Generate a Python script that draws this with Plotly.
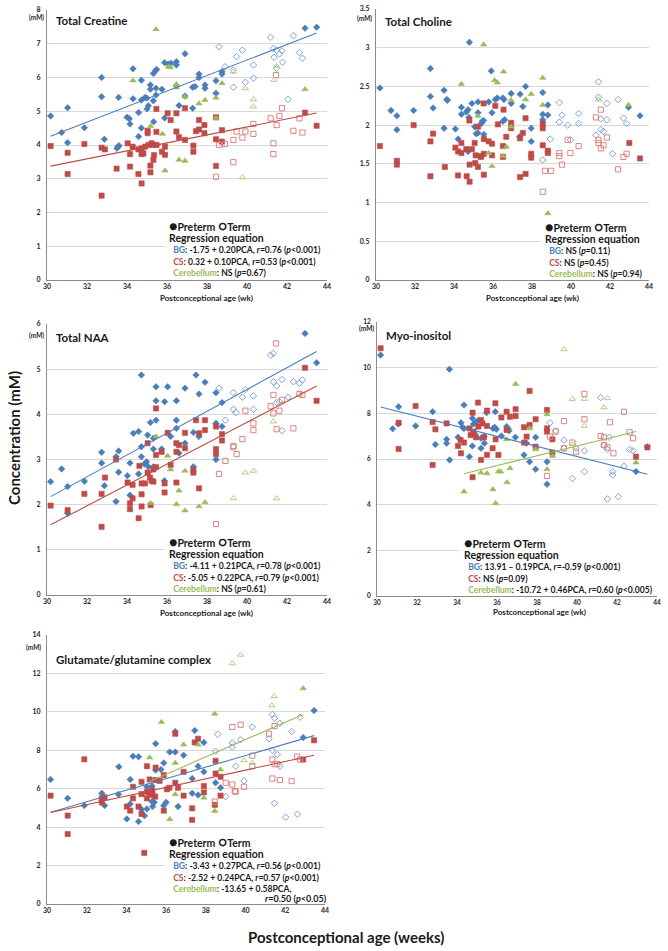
import numpy as np
import plotly.graph_objects as go

W, H = 668, 951
FONT = "Lato"

# ---------------- DATA (postconceptional age in weeks, concentration in mM) ----------------
# Total Creatine
CR_BG_PRE = [(30.18,4.86),(30.73,4.37),(31.03,5.1),(31.03,4.07),(31.87,4.51),(32.73,6.0),(32.73,5.43),(32.87,4.17),(33.58,5.41),(33.5,3.9),(33.55,3.95),(33.6,3.98),(34.0,4.82),(34.12,4.78),(34.15,4.62),(34.3,6.26),(34.3,5.37),(34.58,4.25),(34.58,4.96),(34.72,5.92),(34.72,5.33),(34.72,4.5),(34.9,5.41),(35.0,5.39),(35.0,5.07),(35.07,5.16),(35.17,5.78),(35.17,5.65),(35.32,6.12),(35.42,6.2),(35.48,6.24),(35.32,5.31),(35.33,4.69),(35.45,5.68),(35.45,5.48),(35.75,5.65),(35.88,6.44),(36.07,6.4),(36.2,6.42),(35.88,4.8),(36.47,6.47),(36.47,6.37),(36.47,5.75),(36.6,5.17),(36.9,6.7),(36.9,5.45),(37.28,5.71),(37.4,5.73),(37.28,5.09),(37.6,6.1),(37.6,6.0),(37.9,5.78),(37.9,5.68),(38.45,5.9),(38.45,5.53),(38.75,6.17),(38.75,6.1),(42.9,7.46),(43.48,7.49)]
CR_BG_TERM = [(38.6,6.91),(38.9,6.32),(39.32,6.22),(39.32,5.71),(39.48,6.62),(39.77,6.81),(39.92,5.86),(40.32,6.37),(40.32,5.98),(41.18,7.19),(41.32,6.86),(41.35,6.6),(41.48,6.81),(41.62,6.7),(41.48,6.27),(41.75,6.79),(41.78,6.45),(42.05,5.35),(42.32,7.24),(42.62,6.74),(42.77,6.57)]
CR_CS_PRE = [(30.18,3.97),(31.03,3.77),(31.03,3.14),(31.87,4.03),(32.73,3.92),(32.9,3.87),(32.73,2.5),(33.48,3.3),(34.03,4.05),(34.15,3.73),(34.15,3.36),(34.28,3.95),(34.57,3.87),(34.57,3.14),(34.73,3.9),(34.82,3.75),(34.73,3.73),(34.73,2.86),(35.03,4.35),(35.03,4.42),(34.9,3.95),(35.07,4.0),(35.23,4.05),(35.32,4.0),(35.17,3.19),(35.17,3.39),(35.32,3.56),(35.47,5.07),(35.47,4.39),(35.48,4.0),(35.35,3.7),(35.75,3.8),(35.9,3.95),(35.9,3.71),(36.03,4.94),(36.18,4.74),(36.47,4.94),(36.47,4.4),(36.6,4.23),(36.9,5.09),(36.9,4.15),(37.32,3.98),(37.32,3.8),(37.45,4.41),(37.6,4.74),(37.6,4.46),(37.87,4.59),(37.87,4.35),(38.45,4.82),(38.45,4.17),(38.45,3.38),(38.75,4.44),(38.75,4.1),(42.9,4.96),(43.48,4.57)]
CR_CS_TERM = [(38.6,4.0),(38.9,4.03),(38.45,3.06),(39.32,4.15),(39.32,3.49),(39.48,4.4),(39.77,4.22),(39.92,4.4),(40.32,4.62),(40.32,4.33),(41.18,4.79),(41.32,4.05),(41.32,3.73),(41.45,6.07),(41.48,4.59),(41.62,4.86),(41.75,5.09),(42.32,4.42),(42.62,4.79),(42.77,4.37)]
CR_CB_PRE = [(35.45,7.43),(34.3,5.91),(36.07,6.32),(36.18,6.3),(36.47,5.8),(36.47,5.71),(36.9,5.43),(37.6,5.23),(37.9,5.33),(38.45,5.4),(38.45,4.79),(38.75,5.83),(35.18,4.56),(35.77,4.33),(42.9,5.65),(35.9,3.24),(36.6,3.56),(36.9,3.53)]
CR_CB_TERM = [(39.32,6.17),(39.92,5.68),(40.32,5.35),(40.32,5.14),(41.35,5.93),(41.48,6.34),(39.77,3.04)]

# Total Choline
CH_BG_PRE = [(30.2,2.48),(30.77,2.19),(31.07,2.12),(31.07,1.94),(31.93,2.19),(32.79,2.73),(32.79,2.37),(32.93,2.22),(33.49,2.45),(33.63,2.33),(33.66,2.32),(33.49,1.96),(34.07,1.95),(34.21,1.82),(34.38,2.14),(34.38,2.23),(34.63,2.17),(34.72,2.2),(34.77,2.1),(34.79,3.07),(34.92,2.28),(35.06,1.98),(35.14,1.89),(35.23,1.9),(35.23,2.3),(35.23,2.16),(35.4,2.02),(35.45,2.05),(35.52,2.06),(35.53,1.88),(35.78,2.3),(35.91,2.7),(35.95,2.16),(36.12,2.33),(36.22,2.35),(36.51,2.35),(36.56,2.33),(36.51,2.05),(36.6,2.07),(36.93,2.41),(36.93,2.28),(37.39,2.4),(37.53,2.24),(37.67,2.5),(37.36,1.85),(37.96,1.96),(37.96,1.79),(38.55,2.42),(38.55,2.14),(38.55,2.07),(38.81,2.26),(38.81,2.13),(42.95,2.23),(43.54,2.12),(34.72,1.66)]
CH_BG_TERM = [(38.55,1.55),(38.94,1.82),(39.4,2.29),(39.54,2.13),(39.4,2.04),(39.83,2.0),(39.97,1.81),(40.39,2.15),(40.39,2.02),(41.28,1.87),(41.41,2.56),(41.41,2.36),(41.53,2.08),(41.53,1.94),(41.67,1.92),(41.84,2.28),(41.84,2.07),(42.13,1.63),(42.42,2.33),(42.69,2.09),(42.85,2.02)]
CH_CS_PRE = [(30.2,1.73),(31.07,1.54),(31.07,1.49),(31.93,2.0),(32.79,1.79),(32.93,1.89),(32.79,1.34),(33.53,1.46),(34.07,1.71),(34.21,1.66),(34.38,1.64),(34.38,1.77),(34.21,1.35),(34.63,1.69),(34.65,1.34),(34.79,2.06),(34.8,1.49),(34.8,1.27),(34.92,1.69),(35.06,1.77),(35.11,1.61),(35.09,1.51),(35.23,1.98),(35.23,1.46),(35.4,1.6),(35.37,1.59),(35.52,2.28),(35.53,1.82),(35.53,1.63),(35.53,1.36),(35.78,1.79),(35.95,1.76),(35.95,1.61),(36.12,2.25),(36.25,2.01),(36.51,1.73),(36.51,1.59),(36.54,2.2),(36.68,1.85),(36.93,2.03),(36.93,1.96),(37.39,1.83),(37.39,1.33),(37.53,1.9),(37.67,2.09),(37.67,1.37),(37.96,1.63),(37.96,1.58),(38.55,2.02),(38.55,1.96),(38.55,1.74),(38.81,1.67),(38.81,1.64),(42.99,1.77),(43.54,1.57)]
CH_CS_TERM = [(38.55,1.14),(38.67,1.41),(38.98,1.41),(39.4,1.64),(39.4,1.6),(39.54,1.49),(39.83,1.81),(39.97,1.64),(40.39,1.73),(41.28,2.1),(41.53,2.2),(41.41,1.81),(41.41,1.77),(41.67,1.74),(41.84,1.84),(41.53,1.7),(42.42,1.43),(42.69,1.59),(42.85,1.63)]
CH_CB_PRE = [(35.52,3.04),(34.38,2.53),(36.08,2.58),(36.22,2.55),(36.54,2.69),(36.93,2.32),(36.93,1.98),(37.67,2.33),(37.96,2.4),(38.55,2.61),(38.55,2.26),(35.23,2.12),(36.68,1.72),(35.78,1.64),(35.95,1.47),(36.51,1.6),(38.81,0.86),(42.95,2.26)]
CH_CB_TERM = [(41.41,2.33)]

# Total NAA
NA_BG_PRE = [(30.18,2.51),(30.73,2.79),(31.03,2.4),(31.03,1.81),(31.87,2.52),(32.73,3.16),(32.73,2.92),(32.87,2.42),(33.45,3.06),(33.45,2.07),(33.58,3.19),(33.58,2.72),(34.02,2.64),(34.15,2.92),(34.15,2.21),(34.32,3.58),(34.58,3.62),(34.58,2.68),(34.72,4.87),(34.72,3.28),(34.72,3.06),(34.87,2.9),(34.98,2.95),(35.07,2.84),(35.03,3.54),(35.17,3.82),(35.32,3.47),(35.32,3.23),(35.32,2.84),(35.45,4.61),(35.45,4.3),(35.45,3.87),(35.73,3.23),(35.87,2.53),(35.88,4.28),(36.03,4.61),(36.18,3.51),(36.47,4.3),(36.47,3.87),(36.47,3.69),(36.6,3.14),(36.9,4.58),(36.9,3.36),(37.32,2.84),(37.32,3.6),(37.45,4.87),(37.6,4.45),(37.6,3.51),(37.9,4.71),(38.45,4.48),(38.45,3.8),(38.45,3.0),(38.75,4.26),(38.75,3.73),(42.9,5.79),(43.48,5.14)]
NA_BG_TERM = [(38.6,4.58),(38.92,3.87),(39.32,4.48),(39.32,4.11),(39.45,4.04),(39.77,4.38),(39.92,4.55),(40.32,4.41),(40.32,4.11),(41.18,5.31),(41.32,5.35),(41.32,4.72),(41.48,4.63),(41.48,4.26),(41.62,4.28),(41.75,4.77),(41.75,3.64),(42.05,4.38),(42.32,4.72),(42.62,4.69),(42.77,4.76)]
NA_CS_PRE = [(30.18,1.98),(31.03,1.88),(31.87,2.24),(32.73,2.24),(32.73,1.51),(32.9,2.6),(33.45,3.0),(34.03,2.49),(34.15,2.03),(34.15,1.9),(34.28,2.44),(34.28,2.14),(34.58,1.7),(34.62,2.86),(34.73,2.47),(34.9,2.47),(34.73,2.23),(34.73,1.96),(35.03,3.36),(35.03,2.71),(35.15,2.6),(35.23,2.53),(35.32,2.51),(35.18,1.99),(35.32,2.78),(35.45,4.13),(35.45,3.1),(35.45,2.83),(35.73,3.17),(35.88,2.27),(35.88,2.47),(36.03,3.59),(36.18,2.88),(36.47,3.36),(36.6,3.32),(36.47,3.17),(36.47,2.49),(36.9,3.59),(36.9,3.25),(37.32,2.77),(37.32,2.71),(37.45,3.87),(37.6,3.58),(37.6,2.36),(37.9,3.87),(37.9,3.65),(38.45,3.73),(38.45,3.23),(38.45,3.12),(38.75,3.56),(38.75,3.42),(42.9,5.03),(43.48,4.3)]
NA_CS_TERM = [(38.6,2.68),(38.45,1.57),(38.92,2.97),(39.32,3.3),(39.32,3.27),(39.48,3.12),(39.77,3.45),(39.92,4.08),(40.32,3.8),(40.32,3.65),(41.18,4.18),(41.32,4.43),(41.32,4.02),(41.45,5.57),(41.48,3.67),(41.62,4.08),(41.75,4.32),(42.32,3.69),(42.62,4.45),(42.77,4.43)]
NA_CB_PRE = [(35.45,3.51),(36.03,3.08),(36.18,2.78),(36.9,2.75),(35.18,2.03),(36.47,2.01),(36.6,2.31),(36.9,1.87),(37.6,1.96),(37.9,2.05)]
NA_CB_TERM = [(41.32,3.84),(39.92,2.71),(40.32,2.75),(39.32,2.14),(41.48,2.14)]

# Myo-inositol
MI_BG_PRE = [(30.18,10.55),(30.78,7.33),(31.08,8.29),(31.07,7.53),(31.93,7.45),(32.78,8.07),(32.92,6.64),(33.48,6.86),(33.48,6.69),(33.62,9.93),(33.63,5.96),(34.05,6.95),(34.2,7.59),(34.28,7.39),(34.35,7.34),(34.35,8.36),(34.62,6.1),(34.77,7.78),(34.82,7.53),(34.77,6.57),(34.88,7.12),(34.95,7.61),(35.05,7.68),(35.2,6.47),(35.2,6.91),(35.35,6.98),(35.37,6.69),(35.48,8.03),(35.8,7.34),(35.88,7.39),(35.97,7.3),(35.92,8.07),(36.22,7.01),(36.48,7.42),(36.55,7.33),(36.6,7.24),(36.92,6.95),(37.35,6.18),(37.48,6.69),(37.63,5.88),(37.93,6.95),(37.93,5.55),(38.5,5.88),(38.5,4.89),(42.95,5.45),(43.52,6.54)]
MI_BG_TERM = [(38.65,7.59),(38.93,7.23),(39.35,6.83),(39.35,6.47),(39.77,5.15),(39.95,6.47),(40.37,6.36),(40.37,5.45),(41.18,8.69),(41.35,6.61),(41.52,6.42),(41.62,6.95),(41.78,5.45),(41.78,5.3),(42.35,5.69),(42.63,6.42),(42.8,6.36),(41.52,4.25),(42.07,4.35)]
MI_CS_PRE = [(30.18,10.85),(31.08,7.59),(31.08,6.44),(31.93,8.32),(32.78,5.74),(32.78,7.62),(32.92,7.3),(33.48,7.56),(34.05,6.57),(34.18,6.83),(34.35,6.72),(34.2,6.25),(34.62,7.34),(34.68,7.05),(34.82,7.2),(34.78,8.03),(34.78,5.2),(34.95,6.95),(35.05,8.47),(35.2,7.71),(35.2,5.96),(35.07,7.42),(35.27,7.56),(35.35,6.95),(35.5,8.12),(35.5,7.45),(35.5,6.18),(35.78,6.47),(35.92,8.44),(35.93,6.86),(36.07,6.18),(36.22,7.82),(36.48,8.07),(36.48,7.27),(36.65,7.85),(36.93,8.18),(36.93,7.88),(37.35,7.39),(37.35,6.72),(37.48,6.98),(37.63,8.98),(37.63,7.49),(37.93,7.74),(37.93,6.54),(38.5,8.15),(38.5,7.34),(38.5,7.2),(38.77,6.86),(38.77,6.28),(42.95,6.1),(43.52,6.51)]
MI_CS_TERM = [(38.5,5.26),(38.65,6.98),(38.93,7.2),(39.35,7.66),(39.35,6.47),(39.77,6.72),(39.95,6.32),(40.37,8.85),(40.37,7.74),(41.18,7.01),(41.35,6.95),(41.35,6.61),(41.52,6.51),(41.65,7.61),(41.82,6.25),(42.35,8.07),(42.63,7.17),(42.8,6.91)]
MI_CB_PRE = [(36.93,9.28),(37.63,7.34),(37.93,6.42),(38.5,7.96),(38.77,6.13),(36.48,6.86),(36.65,5.59),(35.2,5.4),(35.5,5.37),(36.07,5.45),(36.18,5.45),(38.5,5.55),(42.95,5.84),(34.35,4.57),(35.8,4.67),(35.93,4.06),(36.5,4.98)]
MI_CB_TERM = [(39.35,10.8),(39.77,8.63),(40.37,8.63),(40.37,7.45),(41.35,8.26),(41.52,8.66),(39.8,6.65)]

# Glutamate/glutamine complex
GL_BG_PRE = [(30.18,6.48),(31.04,5.5),(31.88,5.12),(32.76,5.76),(32.9,5.12),(33.6,5.71),(33.62,7.14),(34.02,4.43),(34.19,6.48),(34.19,5.21),(34.33,7.69),(34.61,7.66),(34.61,4.29),(34.76,4.93),(34.91,4.59),(35.03,6.1),(35.03,4.95),(35.29,6.14),(35.29,5.33),(35.4,5.29),(35.32,5.07),(35.47,8.34),(35.47,6.97),(35.74,7.0),(35.88,7.34),(35.88,5.12),(36.0,5.29),(36.18,7.91),(36.46,7.91),(36.46,8.98),(36.6,5.07),(36.88,7.74),(37.31,6.53),(37.31,5.76),(37.44,9.03),(37.61,7.17),(37.61,5.67),(37.9,8.41),(37.9,6.88),(38.49,6.31),(38.74,6.05),(42.9,8.66),(43.45,10.07)]
GL_BG_TERM = [(38.6,8.83),(38.49,7.95),(39.0,5.59),(39.33,8.38),(39.33,8.17),(39.5,7.17),(39.75,8.55),(39.92,6.41),(40.34,9.21),(41.18,8.6),(41.35,9.86),(41.46,9.67),(41.35,8.0),(41.6,7.78),(41.73,9.41),(41.73,7.17),(42.32,8.98),(42.74,9.72),(41.46,5.24),(42.02,4.52),(42.61,4.67)]
GL_CS_PRE = [(30.18,5.64),(31.04,4.6),(31.04,3.64),(31.88,7.53),(32.76,5.5),(32.76,5.29),(32.9,5.55),(34.02,5.07),(34.19,4.86),(34.33,6.1),(34.33,5.5),(34.61,5.07),(34.76,6.36),(34.76,5.72),(34.76,4.69),(34.9,2.66),(35.03,7.17),(35.03,5.84),(35.03,5.5),(35.17,6.48),(35.17,5.76),(35.29,5.84),(35.29,5.93),(35.32,5.67),(35.45,5.59),(35.47,7.1),(35.47,6.45),(35.67,6.41),(35.88,6.71),(35.88,4.86),(36.04,5.97),(36.16,6.05),(36.46,8.86),(36.46,6.31),(36.6,6.05),(36.88,6.88),(36.88,5.64),(37.31,4.98),(37.31,4.38),(37.44,8.41),(37.61,8.6),(37.9,6.14),(37.9,5.81),(38.45,5.16),(38.49,7.45),(38.49,6.79),(38.74,6.62),(38.74,5.64),(42.9,7.52),(43.45,8.52)]
GL_CS_TERM = [(38.45,5.33),(39.0,6.31),(39.33,9.21),(39.33,6.22),(39.46,5.88),(39.5,5.84),(39.75,9.33),(39.92,6.1),(40.34,7.72),(40.34,7.17),(41.18,8.86),(41.35,7.52),(41.35,6.53),(41.46,9.26),(41.46,7.28),(41.6,7.28),(41.73,6.45),(42.32,6.4),(42.6,7.67),(42.74,7.52)]
GL_CB_PRE = [(35.76,9.47),(35.17,7.62),(36.46,7.34),(36.88,8.29),(37.61,8.29),(38.45,9.9),(38.74,7.0),(36.46,5.71),(37.9,5.53),(42.9,11.22),(36.18,4.41),(38.45,4.84)]
GL_CB_TERM = [(39.33,12.52),(39.75,12.97),(41.44,10.81),(41.32,10.33),(39.92,7.48),(40.34,7.34)]

# Text content
PANEL_TITLES = ["Total Creatine", "Total Choline", "Total NAA", "Myo-inositol", "Glutamate/glutamine complex"]
REGION_NAMES = ["BG", "CS", "Cerebellum"]
EQ_CR = ["-1.75 + 0.20PCA, r=0.76 (p<0.001)", "0.32 + 0.10PCA, r=0.53 (p<0.001)", "NS (p=0.67)"]
EQ_CH = ["NS (p=0.11)", "NS (p=0.45)", "NS (p=0.94)"]
EQ_NA = ["-4.11 + 0.21PCA, r=0.78 (p<0.001)", "-5.05 + 0.22PCA, r=0.79 (p<0.001)", "NS (p=0.61)"]
EQ_MI = ["13.91 \u2013 0.19PCA, r=-0.59 (p<0.001)", "NS (p=0.09)", "-10.72 + 0.46PCA, r=0.60 (p<0.005)"]
EQ_GL = ["-3.43 + 0.27PCA, r=0.56 (p<0.001)", "-2.52 + 0.24PCA, r=0.57 (p<0.001)", "-13.65 + 0.58PCA,"]
EQ_GL_CONT = "r=0.50 (p<0.05)"
X_TICKS = [30, 32, 34, 36, 38, 40, 42, 44]

# ---------------- STYLE / LAYOUT ----------------
C_FILL = {"BG": "#4A7EBB", "CS": "#BE4B48", "Cerebellum": "#9BBB59"}
C_OPEN = {"BG": "#7FA2D8", "CS": "#DA8583", "Cerebellum": "#B3CC82"}
SYM = {"BG": ("diamond", 5.0), "CS": ("square", 5.2), "Cerebellum": ("triangle-up", 5.6)}
AXC = "#8C8C8C"
GRID = "#D9D9D9"
TXT = "#1A1A1A"

PANELS = [
    dict(data=[(CR_BG_PRE, CR_BG_TERM), (CR_CS_PRE, CR_CS_TERM), (CR_CB_PRE, CR_CB_TERM)],
         fits=[True, True, False], eq=EQ_CR, px=(47, 327), py=(10, 280), ymax=8, dtick=1,
         mm=(36, 18), title=(54, 21), leg=(168, 248), box=(165, 328, 217, 277),
         xt=(207, 298), tf=7),
    dict(data=[(CH_BG_PRE, CH_BG_TERM), (CH_CS_PRE, CH_CS_TERM), (CH_CB_PRE, CH_CB_TERM)],
         fits=[False, False, False], eq=EQ_CH, px=(376, 649), py=(9, 280), ymax=3.5, dtick=0.5,
         mm=(365, 19), title=(383, 22), leg=(544, 249), box=(541, 651, 217, 277),
         xt=(532, 298), tf=7),
    dict(data=[(NA_BG_PRE, NA_BG_TERM), (NA_CS_PRE, NA_CS_TERM), (NA_CB_PRE, NA_CB_TERM)],
         fits=[True, True, False], eq=EQ_NA, px=(47, 327), py=(324, 595), ymax=6, dtick=1,
         mm=(36, 335), title=(54, 337), leg=(168, 563), box=(165, 328, 532, 592),
         xt=(207, 613), tf=7),
    dict(data=[(MI_BG_PRE, MI_BG_TERM), (MI_CS_PRE, MI_CS_TERM), (MI_CB_PRE, MI_CB_TERM)],
         fits=[True, False, True], eq=EQ_MI, px=(377, 657), py=(322, 596), ymax=12, dtick=2,
         mm=(366, 328), title=(384, 335), leg=(463, 564), box=(459, 659, 532, 593),
         xt=(539, 612), tf=6.5),
    dict(data=[(GL_BG_PRE, GL_BG_TERM), (GL_CS_PRE, GL_CS_TERM), (GL_CB_PRE, GL_CB_TERM)],
         fits=[True, True, True], eq=EQ_GL, px=(47, 325), py=(635, 904), ymax=14, dtick=2,
         mm=(33, 647), title=(54, 659), leg=(168, 863), box=(165, 327, 832, 902),
         xt=None, tf=7),
]


def fx(p):
    return p / W


def fy(p):
    return 1 - p / H


def fmt(s):
    return (s.replace("(p<", "(<i>p</i>&lt;").replace("(p=", "(<i>p</i>=")
             .replace("r=", "<i>r</i>="))


fig = go.Figure()
layout = dict(width=W, height=H, margin=dict(l=0, r=0, t=0, b=0, autoexpand=False),
              paper_bgcolor="white", plot_bgcolor="white", showlegend=False,
              font=dict(family=FONT, color=TXT))
annotations = []
shapes = []

for i, P in enumerate(PANELS, start=1):
    xs = "" if i == 1 else str(i)
    xa, ya = "xaxis" + xs, "yaxis" + xs
    xr, yr = "x" + xs, "y" + xs
    tickfont = dict(family=FONT, size=P["tf"], color="#262626", weight="bold")
    layout[xa] = dict(domain=[fx(P["px"][0]), fx(P["px"][1])], range=[30, 44],
                      tickvals=X_TICKS, showgrid=False, showline=True, linecolor=AXC,
                      linewidth=1, ticks="", ticklabelstandoff=0,
                      tickfont=tickfont, zeroline=False, anchor=yr, fixedrange=True,
                      automargin=False)
    layout[ya] = dict(domain=[fy(P["py"][1]), fy(P["py"][0])], range=[0, P["ymax"]],
                      dtick=P["dtick"], tick0=0, showgrid=True, gridcolor=GRID, gridwidth=1,
                      showline=True, linecolor=AXC, linewidth=1, ticks="",
                      ticklabelstandoff=4,
                      tickfont=tickfont, zeroline=False, anchor=xr,
                      fixedrange=True, automargin=False)

    for name, (pre, term), fit in zip(REGION_NAMES, P["data"], P["fits"]):
        sym, sz = SYM[name]
        fig.add_trace(go.Scatter(
            x=[p[0] for p in pre], y=[p[1] for p in pre], mode="markers", xaxis=xr, yaxis=yr,
            marker=dict(symbol=sym, size=sz, color=C_FILL[name],
                        line=dict(width=0.6, color=C_FILL[name])), hoverinfo="skip"))
        fig.add_trace(go.Scatter(
            x=[p[0] for p in term], y=[p[1] for p in term], mode="markers", xaxis=xr, yaxis=yr,
            marker=dict(symbol=sym + "-open", size=sz, color=C_OPEN[name],
                        line=dict(width=1, color=C_OPEN[name])), hoverinfo="skip"))
    # linear trendlines (least squares over the preterm series, as in the source chart)
    for name, (pre, term), fit in zip(REGION_NAMES, P["data"], P["fits"]):
        if not fit:
            continue
        ax = np.array([p[0] for p in pre])
        ay = np.array([p[1] for p in pre])
        b, a = np.polyfit(ax, ay, 1)
        lx = np.array([ax.min(), ax.max()])
        fig.add_trace(go.Scatter(x=lx, y=a + b * lx, mode="lines", xaxis=xr, yaxis=yr,
                                 line=dict(color=C_FILL[name], width=1.1), hoverinfo="skip"))

    # legend box
    bx0, bx1, by0, by1 = P["box"]
    shapes.append(dict(type="rect", xref="paper", yref="paper", x0=fx(bx0), x1=fx(bx1),
                       y0=fy(by1), y1=fy(by0), fillcolor="white", line=dict(width=0),
                       layer="above"))

    # panel title and unit
    tx, ty = P["title"]
    annotations.append(dict(text=PANEL_TITLES[i - 1], x=fx(tx), y=fy(ty), xref="paper",
                            yref="paper", xanchor="left", yanchor="middle", showarrow=False,
                            font=dict(family=FONT, size=11.5, color=TXT, weight="bold")))
    mx, my = P["mm"]
    annotations.append(dict(text="(mM)", x=fx(mx), y=fy(my), xref="paper", yref="paper",
                            xanchor="center", yanchor="middle", showarrow=False,
                            font=dict(family=FONT, size=6.5, color="#262626", weight="bold")))
    if P["xt"]:
        annotations.append(dict(text="Postconceptional age (wk)", x=fx(P["xt"][0]),
                                y=fy(P["xt"][1]), xref="paper", yref="paper",
                                xanchor="center", yanchor="middle", showarrow=False,
                                font=dict(family=FONT, size=8, color=TXT, weight="bold")))

    # regression legend: one multi-line text block
    lx0, lyc = P["leg"]
    rows = ["<span style='font-size:10.5px'><span style='font-size:14px'>\u25CF</span>Preterm "
            "<span style='font-size:14px'>\u25CB</span>Term</span>",
            "<span style='font-size:10.5px'>Regression equation</span>"]
    for k, name in enumerate(REGION_NAMES):
        rows.append("\u00a0\u00a0" + f"<span style='color:{C_FILL[name]}'>{name}</span>: "
                    + fmt(P["eq"][k]))
    annotations.append(dict(text="<br>".join(rows), x=fx(lx0), y=fy(lyc), xref="paper",
                            yref="paper", xanchor="left", yanchor="middle", align="left",
                            showarrow=False, borderpad=0,
                            font=dict(family=FONT, size=8.6, color=TXT, weight="bold")))
    if i == 5:
        annotations.append(dict(text=fmt(EQ_GL_CONT), x=fx(328), y=fy(lyc + 35),
                                xref="paper", yref="paper", xanchor="right",
                                yanchor="middle", showarrow=False, borderpad=0,
                                font=dict(family=FONT, size=9, color=TXT, weight="bold")))

annotations.append(dict(text="Concentration (mM)", x=fx(14), y=fy(438), xref="paper",
                        yref="paper", textangle=-90, xanchor="center", yanchor="middle",
                        showarrow=False,
                        font=dict(family=FONT, size=15, color=TXT, weight="bold")))
annotations.append(dict(text="Postconceptional age (weeks)", x=fx(346), y=fy(937),
                        xref="paper", yref="paper", xanchor="center", yanchor="middle",
                        showarrow=False,
                        font=dict(family=FONT, size=15, color=TXT, weight="bold")))

layout["annotations"] = annotations
layout["shapes"] = shapes
fig.update_layout(**layout)
fig.write_html("out.html", config={"displayModeBar": False},
               post_script="document.body.style.margin='0px';"
                           "document.body.style.overflow='hidden';")
